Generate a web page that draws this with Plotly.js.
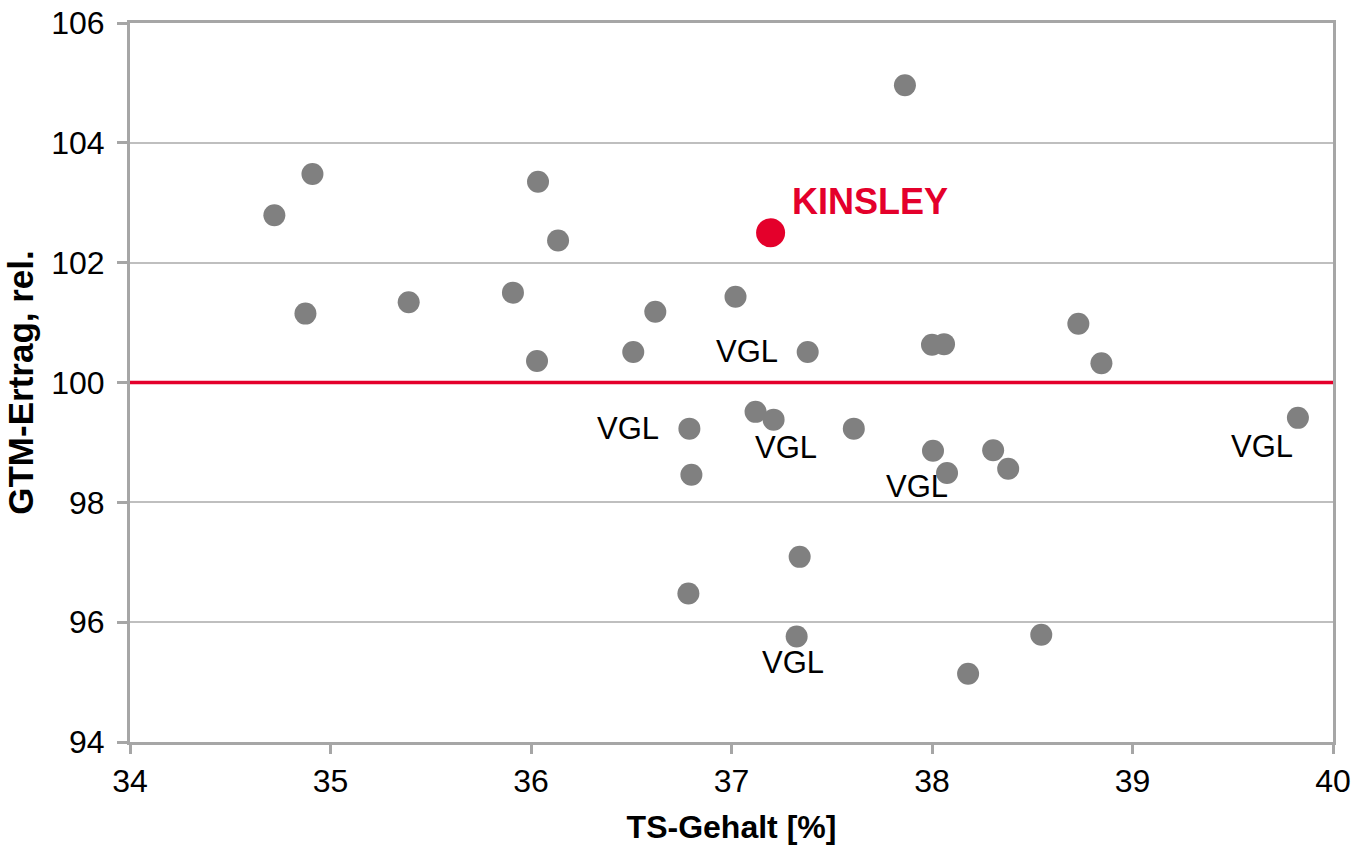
<!DOCTYPE html>
<html>
<head>
<meta charset="utf-8">
<script src="https://cdn.plot.ly/plotly-3.0.1.min.js"></script>
<style>html,body{margin:0;padding:0;background:#fff;}#chart{width:1368px;height:851px;}</style>
</head>
<body>
<div id="chart"></div>
<script>
// Sorten (grey points): TS-Gehalt [%] and GTM-Ertrag rel.
const tsGehalt = [34.72, 34.91, 34.875, 35.39, 35.91, 36.035, 36.135, 36.03, 36.51, 36.62, 37.02,
  37.38, 37.865, 38.00, 38.06, 38.73, 38.845, 39.825, 36.79, 36.80, 37.12, 37.21, 37.61,
  38.005, 38.075, 38.305, 38.38, 37.34, 36.785, 37.325, 38.545, 38.18];
const gtmErtrag = [102.79, 103.48, 101.15, 101.34, 101.50, 103.35, 102.37, 100.36, 100.51, 101.18, 101.43,
  100.51, 104.96, 100.63, 100.64, 100.98, 100.32, 99.41, 99.23, 98.46, 99.51, 99.38, 99.23,
  98.86, 98.49, 98.87, 98.56, 97.09, 96.48, 95.76, 95.79, 95.14];
// Index of the comparison varieties (VGL) in the arrays above
const vglIndex = [11, 18, 21, 24, 17, 29];
const vglText = "VGL";
// Highlighted variety
const highlightName = "KINSLEY";
const highlightTs = [37.195];
const highlightGtm = [102.50];
// Reference line
const referenceValue = 100;
const xRange = [34, 40];
const yRange = [94, 106];

// label offsets (styling only)
const vglShift = [[-61, 0], [-61, 0], [12, -28], [-30, -14], [-36, -29], [-4, -26]];

const grey = "#808080";
const red = "#E4002B";
const font = "Liberation Sans, Arial, sans-serif";

const traces = [
  {type: "scatter", mode: "markers", x: tsGehalt, y: gtmErtrag,
   marker: {color: grey, size: 22, line: {width: 0}}, hoverinfo: "x+y", showlegend: false},
  {type: "scatter", mode: "markers", x: highlightTs, y: highlightGtm,
   marker: {color: red, size: 29, line: {width: 0}}, showlegend: false}
];

const annotations = vglIndex.map((idx, k) => ({
  x: tsGehalt[idx], y: gtmErtrag[idx], xref: "x", yref: "y",
  text: vglText, showarrow: false, xanchor: "center", yanchor: "middle",
  xshift: vglShift[k][0], yshift: vglShift[k][1],
  font: {family: font, size: 31, color: "#000"}
}));
annotations.push({
  x: highlightTs[0], y: highlightGtm[0], xref: "x", yref: "y",
  text: "<b>" + highlightName + "</b>", showarrow: false, xanchor: "left", yanchor: "middle",
  xshift: 19, yshift: 31, font: {family: font, size: 36, color: red}
});

const layout = {
  width: 1368, height: 851,
  margin: {l: 130, r: 35, t: 23, b: 109, pad: 0},
  paper_bgcolor: "#fff", plot_bgcolor: "#fff",
  font: {family: font, size: 32, color: "#000"},
  showlegend: false,
  xaxis: {
    range: xRange, dtick: 1, tick0: 34, showgrid: false, zeroline: false,
    showline: true, linecolor: "#A6A6A6", linewidth: 3, mirror: true,
    ticks: "outside", ticklen: 9, tickwidth: 3, tickcolor: "#A6A6A6",
    tickfont: {family: font, size: 32, color: "#000"},
    title: {text: "<b>TS-Gehalt [%]</b>", font: {family: font, size: 32, color: "#000"}, standoff: 18}
  },
  yaxis: {
    range: yRange, dtick: 2, tick0: 94, showgrid: true, gridcolor: "#BFBFBF", gridwidth: 2, zeroline: false,
    showline: true, linecolor: "#A6A6A6", linewidth: 3, mirror: true,
    ticks: "outside", ticklen: 10, tickwidth: 3, tickcolor: "#A6A6A6",
    ticklabelstandoff: 6,
    tickfont: {family: font, size: 32, color: "#000"},
    title: {text: "<b>GTM-Ertrag, rel.</b>", font: {family: font, size: 35, color: "#000"}, standoff: 7}
  },
  shapes: [{type: "line", xref: "paper", x0: 0, x1: 1, yref: "y", y0: referenceValue, y1: referenceValue,
    line: {color: red, width: 3.3}, layer: "above"}],
  annotations: annotations
};

Plotly.newPlot("chart", traces, layout, {displayModeBar: false, staticPlot: true});
</script>
</body>
</html>
